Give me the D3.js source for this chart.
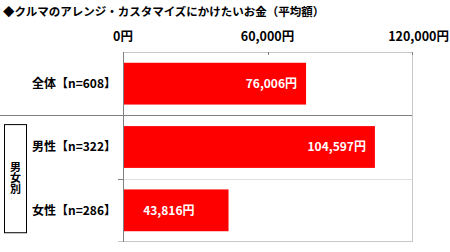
<!DOCTYPE html>
<html><head><meta charset="utf-8">
<script src="https://cdn.jsdelivr.net/npm/d3@7"></script>
<style>body{margin:0;background:#fff;}svg{display:block;}text{font-family:"Noto Sans CJK JP",sans-serif;font-weight:bold;}</style>
</head><body>
<script>
const title = "◆クルマのアレンジ・カスタマイズにかけたいお金（平均額）";
const categories = ["全体【n=608】","男性【n=322】","女性【n=286】"];
const values = [76006, 104597, 43816];
const valueLabels = ["76,006円","104,597円","43,816円"];
const tickValues = [0, 60000, 120000];
const tickLabels = ["0円","60,000円","120,000円"];
const groupLabel = "男女別";

(function(){
const W = 450, H = 252;
const svg = d3.select("body").append("svg").attr("width", W).attr("height", H);
const x = d3.scaleLinear().domain([0, 120000]).range([123, 412]);
const y = d3.scaleBand().domain(categories).range([52, 242]).paddingInner(0.34).paddingOuter(0.17);

svg.append("text").attr("x", 3).attr("y", 16).attr("font-size", 11.5).attr("fill", "#000").text(title);

svg.selectAll(".tl").data(tickValues).enter().append("text")
  .attr("x", (d,i) => i === tickValues.length-1 ? 449 : x(d))
  .attr("y", 41).attr("font-size", 12.5)
  .attr("text-anchor", (d,i) => i === tickValues.length-1 ? "end" : "middle")
  .text((d,i) => tickLabels[i]);

const yTop = y.range()[0], yBot = y.range()[1];
svg.append("line").attr("x1", x(0)).attr("x2", x(120000)).attr("y1", yTop+0.5).attr("y2", yTop+0.5).attr("stroke", "#c8c8c8");
svg.append("line").attr("x1", x(120000)+0.5).attr("x2", x(120000)+0.5).attr("y1", yTop).attr("y2", yBot).attr("stroke", "#c8c8c8");
svg.append("line").attr("x1", 118).attr("x2", x(120000)).attr("y1", yBot-0.5).attr("y2", yBot-0.5).attr("stroke", "#c8c8c8");
svg.selectAll(".tk").data(tickValues).enter().append("line")
  .attr("x1", d => Math.round(x(d))+0.5).attr("x2", d => Math.round(x(d))+0.5)
  .attr("y1", yTop).attr("y2", yTop+3).attr("stroke", "#808080");
const sep1 = y(categories[1]) - y.step()*y.paddingInner()/2;
const sep2 = y(categories[2]) - y.step()*y.paddingInner()/2;
svg.append("line").attr("x1", 0).attr("x2", x(120000)).attr("y1", Math.round(sep1)+0.5).attr("y2", Math.round(sep1)+0.5).attr("stroke", "#808080");
svg.append("line").attr("x1", x(0)).attr("x2", x(120000)).attr("y1", Math.round(sep2)+0.5).attr("y2", Math.round(sep2)+0.5).attr("stroke", "#e0e0e0");
svg.append("line").attr("x1", 118).attr("x2", x(0)).attr("y1", Math.round(sep2)+0.5).attr("y2", Math.round(sep2)+0.5).attr("stroke", "#808080");

svg.selectAll(".bar").data(values).enter().append("rect")
  .attr("x", x(0)).attr("y", (d,i) => y(categories[i]))
  .attr("width", d => x(d) - x(0)).attr("height", y.bandwidth())
  .attr("fill", "#ff0000");

svg.append("line").attr("x1", Math.round(x(0))+0.5).attr("x2", Math.round(x(0))+0.5).attr("y1", yTop).attr("y2", yBot).attr("stroke", "#808080");

svg.selectAll(".vl").data(values).enter().append("text")
  .attr("x", d => (x(d)-x(0) > 150) ? x(d) - 9 : x(d) - 34)
  .attr("y", (d,i) => y(categories[i]) + y.bandwidth()/2)
  .attr("dy", "0.36em").attr("text-anchor", "end").attr("font-size", 12).attr("fill", "#fff")
  .text((d,i) => valueLabels[i]);

svg.selectAll(".cl").data(categories).enter().append("text")
  .attr("x", 116).attr("y", d => y(d) + y.bandwidth()/2)
  .attr("dy", "0.36em").attr("text-anchor", "end").attr("font-size", 12).attr("fill", "#000")
  .text(d => d);

const gTop = y(categories[1]) - 2, gBot = y(categories[2]) + y.bandwidth() + 1;
svg.append("rect").attr("x", 4.5).attr("y", gTop+0.5).attr("width", 22).attr("height", gBot - gTop)
  .attr("fill", "none").attr("stroke", "#000");
const gMid = (gTop + gBot)/2;
svg.append("text").attr("x", 15.5).attr("y", gMid)
  .style("writing-mode", "vertical-rl").attr("text-anchor", "middle")
  .attr("font-size", 11).text(groupLabel);
})();
</script>
</body></html>
